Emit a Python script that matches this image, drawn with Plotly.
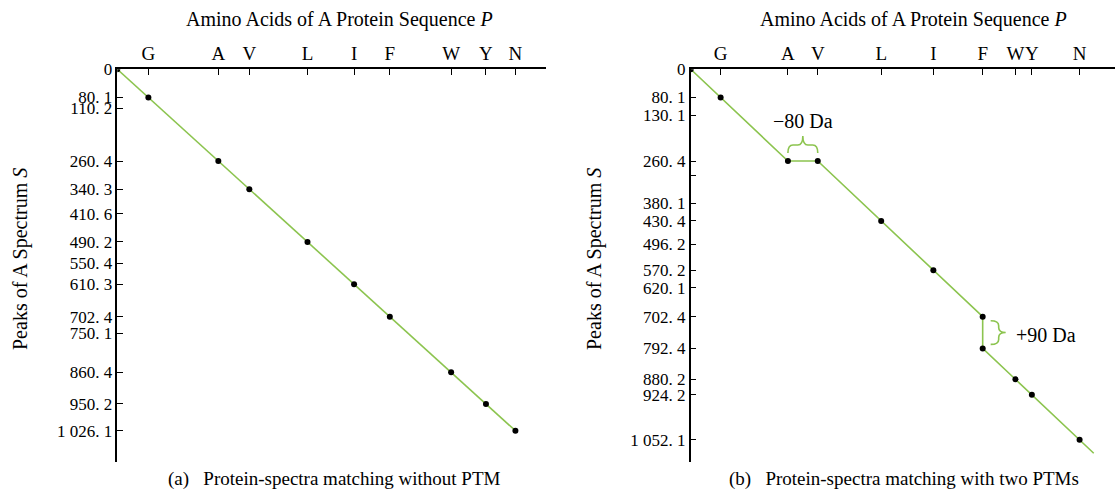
import plotly.graph_objects as go

# ---------------- data ----------------
# Panel (a): matching without PTM
aa_a = ["G", "A", "V", "L", "I", "F", "W", "Y", "N"]
seq_mass_a = [80.1, 260.4, 340.3, 490.2, 610.3, 702.4, 860.4, 950.2, 1026.1]
peaks_a = [80.1, 260.4, 340.3, 490.2, 610.3, 702.4, 860.4, 950.2, 1026.1]
ytick_a = [0, 80.1, 110.2, 260.4, 340.3, 410.6, 490.2, 550.4, 610.3, 702.4,
           750.1, 860.4, 950.2, 1026.1]

# Panel (b): matching with two PTMs
aa_b = ["G", "A", "V", "L", "I", "F", "W", "Y", "N"]
seq_mass_b = [80.1, 260.4, 340.4, 510.4, 650.2, 782.4, 870.2, 914.2, 1042.1]
path_x_b = [0, 80.1, 260.4, 340.4, 510.4, 650.2, 782.4, 782.4, 870.2, 914.2, 1042.1]
path_y_b = [0, 80.1, 260.4, 260.4, 430.4, 570.2, 702.4, 792.4, 880.2, 924.2, 1052.1]
tail_b = (1080.0, 1090.0)
ytick_b = [0, 80.1, 130.1, 260.4, 302.0, 380.1, 430.4, 496.2, 570.2, 620.1,
           702.4, 792.4, 880.2, 924.2, 1052.1]
unlabeled_b = [302.0]
shift1_label = "\u221280 Da"
shift2_label = "+90 Da"

# ---------------- style ----------------
GREEN = "#8cc44f"
FONT = "Liberation Serif"
W, H = 1115, 496
XR_A = [0, 1105]
XR_B = [0, 1137]
YR = [1115, 0]
XD_A = [0.1052, 0.4897]
XD_B = [0.6195, 1.0]
YD = [0.0685, 0.8603]


def fmt(v):
    if v == 0:
        return "0"
    s = f"{v:.1f}"
    ip, dp = s.split(".")
    if len(ip) > 3:
        ip = ip[:-3] + " " + ip[-3:]
    return f"{ip}. {dp}"


fig = go.Figure()

# panel (a)
fig.add_trace(go.Scatter(x=[0] + seq_mass_a, y=[0] + peaks_a, mode="lines",
                         line=dict(color=GREEN, width=1.6), xaxis="x", yaxis="y",
                         hoverinfo="skip", showlegend=False))
fig.add_trace(go.Scatter(x=[0] + seq_mass_a, y=[0] + peaks_a, mode="markers",
                         marker=dict(color="black", size=6), xaxis="x", yaxis="y",
                         showlegend=False))

# panel (b)
fig.add_trace(go.Scatter(x=path_x_b + [tail_b[0]], y=path_y_b + [tail_b[1]], mode="lines",
                         line=dict(color=GREEN, width=1.6), xaxis="x2", yaxis="y2",
                         hoverinfo="skip", showlegend=False))
fig.add_trace(go.Scatter(x=path_x_b, y=path_y_b, mode="markers",
                         marker=dict(color="black", size=6), xaxis="x2", yaxis="y2",
                         showlegend=False))

# braces for the PTM shifts (panel b)
sx = (XR_B[1] - XR_B[0]) / (W * (XD_B[1] - XD_B[0]))   # data units per px (x)
sy = (YR[0] - YR[1]) / (H * (YD[1] - YD[0]))           # data units per px (y)

# -80 Da: horizontal brace above the A-V segment
x1, x2 = path_x_b[2], path_x_b[3]
y0 = path_y_b[2]
xm = (x1 + x2) / 2
ye, yb, yt = y0 - 8 * sy, y0 - 16 * sy, y0 - 25 * sy
r = 5 * sx
p1 = (f"M {x1},{ye} Q {x1},{yb} {x1 + r},{yb} L {xm - r},{yb} "
      f"Q {xm},{yb} {xm},{yt} Q {xm},{yb} {xm + r},{yb} L {x2 - r},{yb} "
      f"Q {x2},{yb} {x2},{ye}")
fig.add_shape(type="path", path=p1, xref="x2", yref="y2",
              line=dict(color=GREEN, width=1.6))
fig.add_annotation(x=xm, y=y0 - 40 * sy, xref="x2", yref="y2", text=shift1_label,
                   showarrow=False, font=dict(family=FONT, size=20, color="black"))

# +90 Da: vertical brace right of the F-F' segment
xf = path_x_b[6]
ya, yb2 = path_y_b[6] + 4 * sy, path_y_b[7] - 4 * sy
ym = (ya + yb2) / 2
xe, xb_, xt = xf + 8 * sx, xf + 16 * sx, xf + 23 * sx
ry = 5 * sy
p2 = (f"M {xe},{ya} Q {xb_},{ya} {xb_},{ya + ry} L {xb_},{ym - ry} "
      f"Q {xb_},{ym} {xt},{ym} Q {xb_},{ym} {xb_},{ym + ry} L {xb_},{yb2 - ry} "
      f"Q {xb_},{yb2} {xe},{yb2}")
fig.add_shape(type="path", path=p2, xref="x2", yref="y2",
              line=dict(color=GREEN, width=1.6))
fig.add_annotation(x=xf + 31 * sx, y=ym + 2 * sy, xref="x2", yref="y2", text=shift2_label,
                   showarrow=False, xanchor="left",
                   font=dict(family=FONT, size=20, color="black"))

axis_common = dict(showline=True, linecolor="black", linewidth=1.5, ticks="inside",
                   ticklen=6, tickwidth=1.2, tickcolor="black", showgrid=False,
                   zeroline=False, fixedrange=True, automargin=False, tickangle=0)
xfont = dict(family=FONT, size=19, color="black")
yfont = dict(family=FONT, size=17, color="black")

fig.update_layout(
    template="none",
    width=W, height=H, margin=dict(l=0, r=0, t=0, b=0, pad=0),
    plot_bgcolor="white", paper_bgcolor="white", showlegend=False,
    xaxis=dict(domain=XD_A, range=XR_A, side="top", anchor="y", tickfont=xfont,
               tickmode="array", tickvals=seq_mass_a, ticktext=aa_a, **axis_common),
    yaxis=dict(domain=YD, range=YR, anchor="x", tickfont=yfont,
               tickmode="array", tickvals=ytick_a, ticktext=[fmt(v) for v in ytick_a],
               **axis_common),
    xaxis2=dict(domain=XD_B, range=XR_B, side="top", anchor="y2", tickfont=xfont,
                tickmode="array", tickvals=seq_mass_b, ticktext=aa_b, **axis_common),
    yaxis2=dict(domain=YD, range=YR, anchor="x2", tickfont=yfont,
                tickmode="array", tickvals=ytick_b,
                ticktext=["" if v in unlabeled_b else fmt(v) for v in ytick_b],
                **axis_common),
)

# axis titles and captions
tfont = dict(family=FONT, size=20, color="black")
ytfont = dict(family=FONT, size=20, color="black")
capfont = dict(family=FONT, size=19, color="black")
fig.add_annotation(x=339 / W, y=1 - 20 / H, xref="paper", yref="paper",
                   text="Amino Acids of A Protein Sequence <i>P</i>", showarrow=False,
                   font=tfont, xanchor="center", yanchor="middle")
fig.add_annotation(x=913 / W, y=1 - 20 / H, xref="paper", yref="paper",
                   text="Amino Acids of A Protein Sequence <i>P</i>", showarrow=False,
                   font=tfont, xanchor="center", yanchor="middle")
fig.add_annotation(x=20 / W, y=1 - 259 / H, xref="paper", yref="paper",
                   text="Peaks of A Spectrum <i>S</i>", showarrow=False, textangle=-90,
                   font=ytfont, xanchor="center", yanchor="middle")
fig.add_annotation(x=594 / W, y=1 - 259 / H, xref="paper", yref="paper",
                   text="Peaks of A Spectrum <i>S</i>", showarrow=False, textangle=-90,
                   font=ytfont, xanchor="center", yanchor="middle")
fig.add_annotation(x=334 / W, y=1 - 479 / H, xref="paper", yref="paper",
                   text="(a)\u2002 Protein-spectra matching without PTM", showarrow=False,
                   font=capfont, xanchor="center", yanchor="middle")
fig.add_annotation(x=904 / W, y=1 - 479 / H, xref="paper", yref="paper",
                   text="(b)\u2002 Protein-spectra matching with two PTMs", showarrow=False,
                   font=capfont, xanchor="center", yanchor="middle")

fig.write_html("out.html")
